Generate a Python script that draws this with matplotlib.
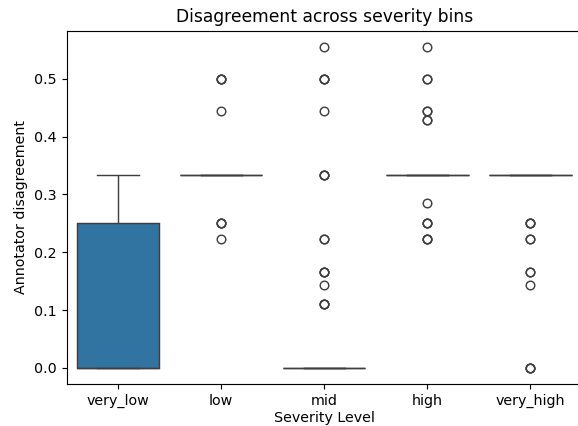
import numpy as np
import pandas as pd
import matplotlib
matplotlib.use("Agg")
import matplotlib.pyplot as plt
import seaborn as sns

categories = ["very_low", "low", "mid", "high", "very_high"]

very_low_vals = [0.0, 0.25, 0.3333]
very_low_counts = [10, 4, 2]

low_vals = [0.3333, 0.5, 0.4444, 0.25, 0.2222]
low_counts = [40, 3, 1, 3, 1]

mid_vals = [0.0, 0.5556, 0.5, 0.4444, 0.3333, 0.2222, 0.1667, 0.1429, 0.1111]
mid_counts = [80, 1, 3, 1, 3, 2, 3, 1, 3]

high_vals = [0.3333, 0.5556, 0.5, 0.4444, 0.4286, 0.2857, 0.25, 0.2222]
high_counts = [40, 1, 2, 2, 2, 1, 3, 3]

very_high_vals = [0.3333, 0.25, 0.2222, 0.1667, 0.1429, 0.0]
very_high_counts = [40, 3, 2, 2, 1, 3]

series = {
    "very_low": (very_low_vals, very_low_counts),
    "low": (low_vals, low_counts),
    "mid": (mid_vals, mid_counts),
    "high": (high_vals, high_counts),
    "very_high": (very_high_vals, very_high_counts),
}

rows = []
for cat in categories:
    vals, cnts = series[cat]
    for v in np.repeat(vals, cnts):
        rows.append((cat, v))
df = pd.DataFrame(rows, columns=["severity", "disagreement"])

DPI = 103
fig = plt.figure(figsize=(578 / DPI, 426 / DPI), dpi=DPI)
W, H = 578, 426
left, right, top, bottom = 66.5, 582, 30.5, 384
ax = fig.add_axes([left / W, 1 - bottom / H, (right - left) / W, (bottom - top) / H])
sns.boxplot(data=df, x="severity", y="disagreement", order=categories, ax=ax)
ax.set_title("Disagreement across severity bins")
ax.set_xlabel("Severity Level", labelpad=2)
ax.set_ylabel("Annotator disagreement")
fig.savefig("out.png", dpi=DPI)
